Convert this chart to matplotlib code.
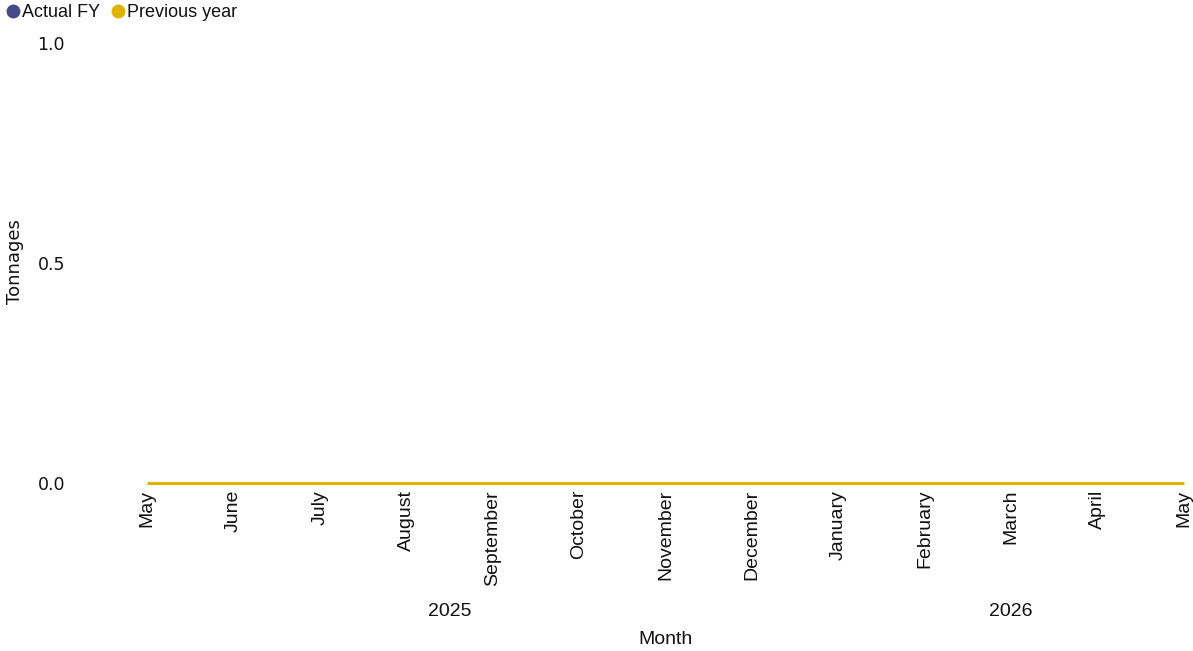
import numpy as np
import matplotlib
matplotlib.use("Agg")
import matplotlib.pyplot as plt
from matplotlib.lines import Line2D

months = ["May", "June", "July", "August", "September", "October", "November",
          "December", "January", "February", "March", "April", "May"]
years = [2025, 2025, 2025, 2025, 2025, 2025, 2025, 2025, 2026, 2026, 2026, 2026, 2026]
actual_fy = [np.nan] * 13
previous_year = [0, 0, 0, 0, 0, 0, 0, 0, 0, 0, 0, 0, 0]

navy = "#474a8a"
gold = "#dfb400"
txt = "#111111"

fig = plt.figure(figsize=(11.93, 6.51), dpi=100)
ax = fig.add_axes([147 / 1193, 1 - 483 / 651, (1184 - 147) / 1193, (483 - 43) / 651])

x = np.arange(len(months))
ax.plot(x, actual_fy, color=navy, lw=2.2, clip_on=False)
ax.plot(x, previous_year, color=gold, lw=2.2, clip_on=False, solid_capstyle="butt")

ax.set_xlim(0, len(months) - 1)
ax.set_ylim(0, 1)
ax.set_yticks([0, 0.5, 1.0])
ax.set_yticklabels(["0.0", "0.5", "1.0"], fontfamily="DejaVu Sans", fontsize=12.5)
ax.tick_params(axis="y", length=0, pad=59, colors=txt)
ax.set_xticks(x)
ax.set_xticklabels(months, rotation=90, fontfamily="Liberation Sans", fontsize=14)
ax.tick_params(axis="x", length=0, pad=5, colors=txt)
for s in ax.spines.values():
    s.set_visible(False)

# year labels centred over each year's months
year_y = -(612 - 483) / 440
for yr in sorted(set(years)):
    idx = [i for i, v in enumerate(years) if v == yr]
    xc = (idx[0] + idx[-1]) / 2
    ax.text(xc, year_y, str(yr), transform=ax.get_xaxis_transform(), ha="center", va="center",
            fontfamily="Liberation Sans", fontsize=14, color=txt)

fig.text(665 / 1193, 1 - 640 / 651, "Month", ha="center", va="center",
         fontfamily="Liberation Sans", fontsize=14, color=txt)
fig.text(15 / 1193, 1 - 262 / 651, "Tonnages", ha="center", va="center", rotation=90,
         fontfamily="DejaVu Sans", fontsize=13, color=txt)

handles = [Line2D([], [], marker="o", ls="", color=navy, markersize=9),
           Line2D([], [], marker="o", ls="", color=gold, markersize=9)]
fig.legend(handles, ["Actual FY", "Previous year"], loc="upper left",
           bbox_to_anchor=(-0.007, 1.01), ncol=2, frameon=False, handletextpad=-0.1,
           columnspacing=0.35, handlelength=1.2, borderaxespad=0.2,
           prop={"family": "Liberation Sans", "size": 13}, labelcolor=txt)

fig.savefig("out.png", dpi=100)
